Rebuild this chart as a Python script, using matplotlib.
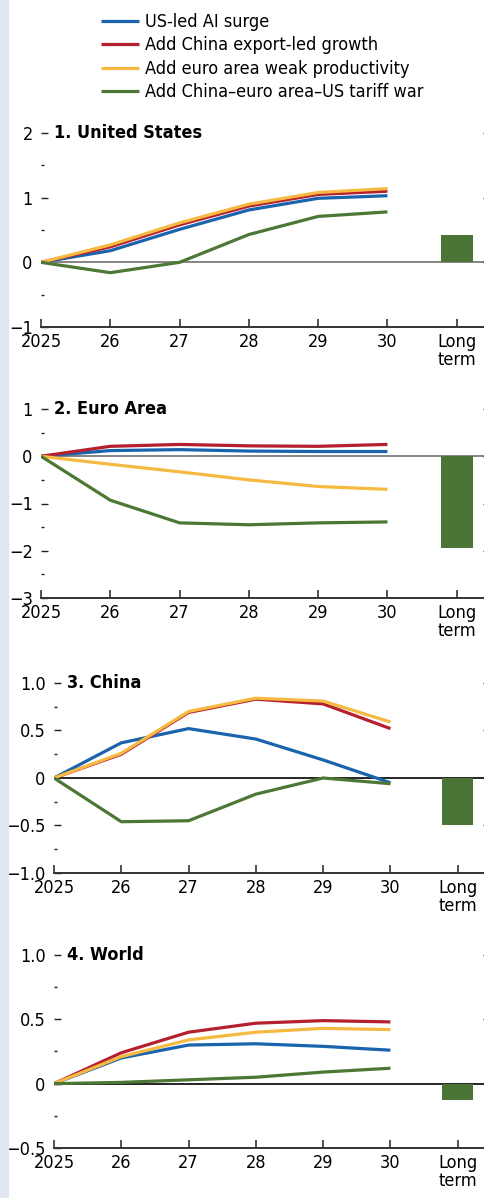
import matplotlib
matplotlib.use("Agg")
import matplotlib.pyplot as plt
from matplotlib.patches import Rectangle

plt.rcParams['font.family'] = ['DejaVu Sans']
plt.rcParams['font.stretch'] = 'condensed'

# ---------------------- 数据 ----------------------
years = ["2025", "26", "27", "28", "29", "30"]
x_labels = years + ["Long\nterm"]
series_names = ["US-led AI surge", "Add China export-led growth",
                "Add euro area weak productivity", "Add China\u2013euro area\u2013US tariff war"]

# 1. United States
us_ai = [0, 0.18, 0.51, 0.81, 0.99, 1.03]
us_china = [0, 0.24, 0.58, 0.87, 1.05, 1.10]
us_euro = [0, 0.27, 0.61, 0.90, 1.08, 1.14]
us_tariff = [0, -0.16, 0.0, 0.43, 0.71, 0.78]
us_long = 0.43

# 2. Euro Area
ea_ai = [0, 0.12, 0.14, 0.11, 0.10, 0.10]
ea_china = [0, 0.21, 0.25, 0.22, 0.21, 0.25]
ea_euro = [0, -0.17, -0.33, -0.50, -0.64, -0.70]
ea_tariff = [0, -0.93, -1.41, -1.45, -1.41, -1.39]
ea_long = -1.94

# 3. China
cn_ai = [0, 0.37, 0.52, 0.41, 0.19, -0.05]
cn_china = [0, 0.25, 0.69, 0.83, 0.78, 0.52]
cn_euro = [0, 0.26, 0.70, 0.84, 0.81, 0.59]
cn_tariff = [0, -0.46, -0.45, -0.17, 0.0, -0.06]
cn_long = -0.50

# 4. World
wd_ai = [0, 0.20, 0.30, 0.31, 0.29, 0.26]
wd_china = [0, 0.24, 0.40, 0.47, 0.49, 0.48]
wd_euro = [0, 0.21, 0.34, 0.40, 0.43, 0.42]
wd_tariff = [0, 0.01, 0.03, 0.05, 0.09, 0.12]
wd_long = -0.13

# 纵轴刻度
us_ticks = [2, 1, 0, -1]
us_ticklabels = ["2", "1", "0", "\u22121"]
ea_ticks = [1, 0, -1, -2, -3]
ea_ticklabels = ["1", "0", "\u22121", "\u22122", "\u22123"]
cn_ticks = [1.0, 0.5, 0, -0.5, -1.0]
cn_ticklabels = ["1.0", "0.5", "0", "\u22120.5", "\u22121.0"]
wd_ticks = [1.0, 0.5, 0, -0.5]
wd_ticklabels = ["1.0", "0.5", "0", "\u22120.5"]

colors = ["#1a63ad", "#b5202f", "#f6b942", "#4c7735"]
bar_color = "#4a7536"

panels = [
    ("1. United States", [us_ai, us_china, us_euro, us_tariff], us_long, us_ticks, us_ticklabels, 0.5, "#707070"),
    ("2. Euro Area", [ea_ai, ea_china, ea_euro, ea_tariff], ea_long, ea_ticks, ea_ticklabels, 0.5, "#707070"),
    ("3. China", [cn_ai, cn_china, cn_euro, cn_tariff], cn_long, cn_ticks, cn_ticklabels, 0.25, "#000000"),
    ("4. World", [wd_ai, wd_china, wd_euro, wd_tariff], wd_long, wd_ticks, wd_ticklabels, 0.25, "#000000"),
]

# 像素布局 (left, top, bottom)
W, H = 485, 1198
boxes = [(41, 133, 327), (41, 409, 598), (54, 683, 873), (54, 955, 1148)]

fig = plt.figure(figsize=(W / 100, H / 100), dpi=100)
fig.patches.append(Rectangle((0, 0), 8 / W, 1, transform=fig.transFigure,
                             color="#e3e7f3", zorder=0))

fs = 13
handles = []
for i, (title, lines, long_val, yt, ytl, minor_step, zero_col) in enumerate(panels):
    left, top, bottom = boxes[i]
    ax = fig.add_axes([left / W, 1 - bottom / H, (490 - left) / W, (bottom - top) / H])
    xs = list(range(len(years)))
    ax.axhline(0, color=zero_col, lw=1.2, zorder=1)
    for j, ys in enumerate(lines):
        h, = ax.plot(xs, ys, color=colors[j], lw=2.3, zorder=2 + j,
                     solid_capstyle="butt")
        if i == 0:
            handles.append(h)
    ax.bar(len(years), long_val, width=0.46, color=bar_color, zorder=2)

    ax.set_xlim(0, 6.48)
    ax.set_ylim(min(yt), max(yt))
    ax.set_xticks(range(len(x_labels)))
    ax.set_xticklabels(x_labels, fontsize=fs, linespacing=1.05)
    ax.set_yticks(yt)
    ax.set_yticklabels(ytl, fontsize=fs)
    minors = []
    v = min(yt)
    while v < max(yt):
        v += minor_step
        if all(abs(v - t) > 1e-6 for t in yt):
            minors.append(v)
    ax.set_yticks(minors, minor=True)

    for s in ["top", "left", "right"]:
        ax.spines[s].set_visible(False)
    ax.spines["bottom"].set_color("#333333")
    ax.spines["bottom"].set_linewidth(1.4)
    ax.tick_params(axis="x", direction="in", length=6, width=1.2, color="#333333", pad=4)
    ax.tick_params(axis="y", which="major", direction="in", length=5, width=1.0,
                   color="#222222", pad=6, right=True)
    ax.tick_params(axis="y", which="minor", direction="in", length=2.5, width=1.0,
                   color="#222222", right=True)
    ax.text(0.03, 1.0, title, transform=ax.transAxes, fontsize=fs,
            fontweight="bold", va="center", ha="left")

# 图例
fig.legend(handles, series_names, loc="upper left", bbox_to_anchor=(101 / W, 1 - 13 / H),
           frameon=False, fontsize=fs, handlelength=2.1, handletextpad=0.35,
           labelspacing=0.3, borderpad=0, borderaxespad=0)

plt.savefig("out.png", dpi=100)
